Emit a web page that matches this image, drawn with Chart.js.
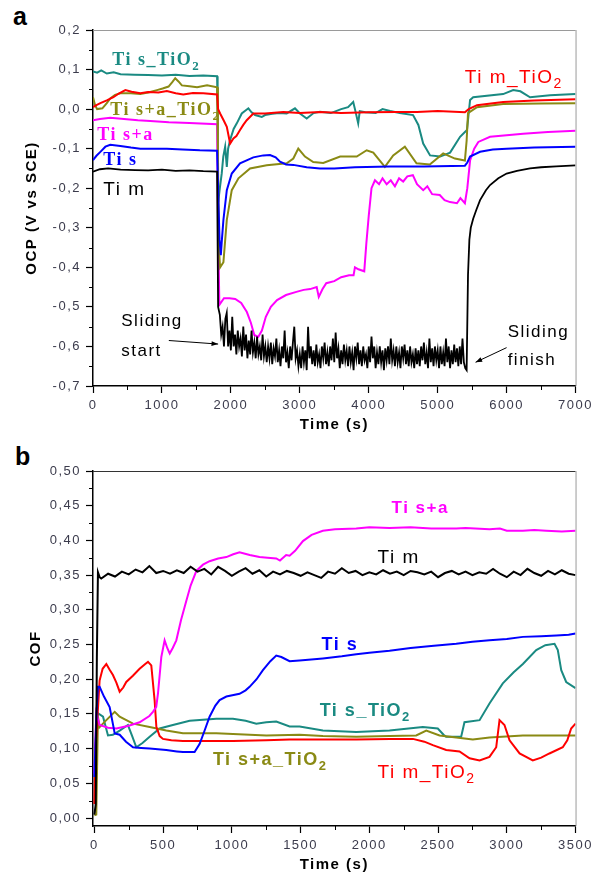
<!DOCTYPE html>
<html>
<head>
<meta charset="utf-8">
<script src="https://cdn.jsdelivr.net/npm/chart.js@4.4.1/dist/chart.umd.min.js"></script>
<style>
  body { margin: 0; background: #fff; width: 595px; height: 878px; position: relative; overflow: hidden; }
  canvas { position: absolute; left: 0; }
  .panel { position: absolute; left: 13px; font: bold 25px 'Liberation Sans', Arial, sans-serif; line-height: 25px; }
</style>
</head>
<body>
<div class="panel" style="top:4px">a</div>
<div class="panel" style="top:444px;left:15px">b</div>
<canvas id="ocp" width="595" height="440" style="top:0"></canvas>
<canvas id="cof" width="595" height="438" style="top:440px"></canvas>
<script>
// ---------- panel a : OCP (V vs SCE) against time (s) ----------
const ocpXTicks = [0, 1000, 2000, 3000, 4000, 5000, 6000, 7000];
const ocpYTicks = [-0.7, -0.6, -0.5, -0.4, -0.3, -0.2, -0.1, 0, 0.1, 0.2];
const ocpXMinor = [500, 1500, 2500, 3500, 4500, 5500, 6500];
const ocpYMinor = [-0.65, -0.55, -0.45, -0.35, -0.25, -0.15, -0.05, 0.05, 0.15];

const ocpTimPre = [[0,-0.158],[100,-0.152],[220,-0.15],[400,-0.153],[610,-0.154],[800,-0.155],[1000,-0.153],[1200,-0.156],[1400,-0.155],[1600,-0.157],[1800,-0.158],[1815,-0.5]];
// sliding band of Ti m, sampled every 20 s from 1840 s
const ocpTimBandStart = 1840;
const ocpTimBandStep = 20;
const ocpTimBand = [
  -0.52,-0.57,-0.55,-0.6,-0.53,-0.515,-0.6,-0.56,-0.61,-0.525,-0.6,-0.57,-0.62,-0.56,-0.6,-0.58,-0.625,
  -0.55,-0.61,-0.57,-0.63,-0.585,-0.62,-0.56,-0.615,-0.59,-0.63,-0.575,-0.62,-0.6,-0.635,-0.57,-0.625,-0.6,
  -0.64,-0.6,-0.63,-0.59,-0.645,-0.605,-0.625,-0.58,-0.64,-0.61,-0.65,-0.6,-0.63,-0.56,-0.64,-0.615,-0.655,
  -0.6,-0.635,-0.59,-0.55,-0.63,-0.61,-0.65,-0.62,-0.655,-0.6,-0.64,-0.61,-0.66,-0.55,-0.63,-0.6,-0.645,
  -0.61,-0.65,-0.595,-0.64,-0.62,-0.655,-0.6,-0.63,-0.59,-0.645,-0.615,-0.65,-0.6,-0.635,-0.58,-0.64,-0.565,
  -0.63,-0.605,-0.655,-0.61,-0.645,-0.595,-0.635,-0.61,-0.65,-0.6,-0.64,-0.615,-0.66,-0.6,-0.63,-0.59,-0.645,
  -0.61,-0.65,-0.6,-0.635,-0.62,-0.655,-0.6,-0.64,-0.575,-0.63,-0.6,-0.655,-0.615,-0.645,-0.6,-0.64,-0.61,
  -0.66,-0.605,-0.635,-0.6,-0.645,-0.58,-0.635,-0.61,-0.65,-0.6,-0.64,-0.615,-0.655,-0.6,-0.63,-0.595,-0.645,
  -0.61,-0.65,-0.6,-0.64,-0.62,-0.655,-0.605,-0.645,-0.61,-0.65,-0.6,-0.635,-0.59,-0.645,-0.615,-0.655,-0.58,
  -0.64,-0.605,-0.65,-0.6,-0.635,-0.61,-0.655,-0.6,-0.645,-0.615,-0.65,-0.58,-0.64,-0.6,-0.655,-0.61,-0.645,
  -0.595,-0.64,-0.605,-0.65,-0.6,-0.645,-0.58,-0.64,-0.655,-0.66
];
const ocpTimPost = [[5440,-0.42],[5460,-0.33],[5480,-0.3],[5515,-0.277],[5560,-0.255],[5615,-0.23],[5700,-0.205],[5760,-0.192],[5880,-0.175],[6000,-0.163],[6150,-0.156],[6340,-0.15],[6500,-0.147],[6720,-0.145],[7000,-0.142]];

const ocpTis = [[0,-0.129],[50,-0.118],[107,-0.108],[180,-0.095],[251,-0.09],[397,-0.093],[550,-0.097],[686,-0.1],[900,-0.1],[1072,-0.1],[1300,-0.102],[1550,-0.104],[1800,-0.105],[1815,-0.2],[1835,-0.33],[1854,-0.369],[1870,-0.33],[1892,-0.28],[1941,-0.205],[2013,-0.163],[2133,-0.137],[2326,-0.122],[2470,-0.117],[2568,-0.116],[2650,-0.122],[2713,-0.133],[2800,-0.14],[2906,-0.141],[3100,-0.147],[3292,-0.15],[3500,-0.15],[3800,-0.147],[4300,-0.145],[4800,-0.145],[5395,-0.143],[5430,-0.135],[5470,-0.12],[5615,-0.108],[5800,-0.102],[6000,-0.1],[6400,-0.097],[7000,-0.095]];

const ocpTimTiO2 = [[0,0.005],[50,0.01],[107,0.015],[200,0.022],[296,0.03],[380,0.04],[470,0.048],[560,0.044],[686,0.04],[800,0.043],[950,0.042],[1072,0.046],[1200,0.04],[1309,0.037],[1450,0.041],[1600,0.04],[1800,0.037],[1815,0.0],[1844,-0.011],[1900,-0.03],[1941,-0.045],[1989,-0.087],[2037,-0.074],[2080,-0.068],[2133,-0.053],[2180,-0.04],[2230,-0.028],[2326,-0.011],[2496,-0.011],[2761,-0.007],[3000,-0.01],[3300,-0.007],[3600,-0.01],[4000,-0.008],[4400,-0.007],[4700,-0.007],[5000,-0.005],[5395,-0.008],[5450,0.0],[5570,0.01],[5950,0.018],[6400,0.022],[7000,0.025]];

const ocpTisaTiO2 = [[0,0.03],[30,0.01],[60,0.0],[136,0.002],[200,0.015],[250,0.027],[320,0.036],[397,0.04],[550,0.04],[686,0.038],[800,0.042],[928,0.048],[1010,0.052],[1096,0.057],[1150,0.068],[1193,0.078],[1240,0.07],[1289,0.06],[1400,0.058],[1510,0.055],[1655,0.06],[1800,0.055],[1812,-0.1],[1825,-0.35],[1844,-0.4],[1892,-0.387],[1941,-0.28],[2013,-0.205],[2110,-0.175],[2278,-0.15],[2520,-0.142],[2810,-0.137],[2906,-0.125],[2978,-0.1],[3075,-0.12],[3195,-0.134],[3340,-0.136],[3585,-0.12],[3826,-0.12],[3970,-0.104],[4066,-0.11],[4234,-0.146],[4355,-0.117],[4524,-0.095],[4693,-0.137],[4886,-0.14],[5080,-0.112],[5250,-0.125],[5395,-0.13],[5420,-0.08],[5440,-0.01],[5570,0.005],[5950,0.013],[6500,0.014],[7000,0.015]];

const ocpTisa = [[0,-0.028],[100,-0.025],[250,-0.022],[450,-0.025],[650,-0.028],[830,-0.03],[1100,-0.033],[1400,-0.035],[1800,-0.038],[1815,-0.3],[1833,-0.495],[1900,-0.478],[1980,-0.478],[2063,-0.48],[2150,-0.49],[2232,-0.513],[2290,-0.54],[2340,-0.571],[2397,-0.576],[2450,-0.56],[2507,-0.525],[2580,-0.5],[2670,-0.483],[2800,-0.47],[2950,-0.462],[3056,-0.457],[3150,-0.455],[3245,-0.45],[3275,-0.475],[3330,-0.455],[3384,-0.44],[3500,-0.435],[3600,-0.425],[3715,-0.42],[3780,-0.42],[3800,-0.4],[3850,-0.405],[3935,-0.41],[3965,-0.34],[4000,-0.27],[4040,-0.2],[4090,-0.18],[4150,-0.19],[4200,-0.175],[4260,-0.19],[4320,-0.18],[4380,-0.195],[4440,-0.175],[4500,-0.183],[4560,-0.17],[4640,-0.167],[4700,-0.19],[4790,-0.205],[4850,-0.195],[4920,-0.215],[5030,-0.217],[5100,-0.23],[5180,-0.235],[5280,-0.238],[5330,-0.225],[5395,-0.238],[5430,-0.2],[5470,-0.13],[5530,-0.1],[5590,-0.083],[5760,-0.07],[6000,-0.066],[6240,-0.062],[6600,-0.058],[7000,-0.055]];

const ocpTisTiO2 = [[0,0.095],[60,0.092],[120,0.098],[200,0.09],[300,0.093],[400,0.088],[600,0.087],[800,0.086],[1000,0.085],[1200,0.087],[1400,0.084],[1600,0.085],[1800,0.083],[1808,0.0],[1816,-0.235],[1840,-0.2],[1868,-0.162],[1890,-0.12],[1917,-0.095],[1941,-0.146],[1960,-0.1],[1989,-0.078],[2040,-0.05],[2086,-0.036],[2158,-0.011],[2254,0.002],[2300,-0.008],[2351,-0.015],[2448,-0.02],[2496,-0.015],[2600,-0.012],[2700,-0.01],[2810,-0.011],[2930,0.002],[3002,-0.011],[3100,-0.024],[3200,-0.01],[3292,-0.007],[3450,-0.01],[3600,0.0],[3700,0.005],[3775,0.018],[3800,0.0],[3847,-0.036],[3870,-0.005],[3950,-0.008],[4100,-0.01],[4200,0.0],[4310,-0.005],[4450,-0.01],[4643,-0.015],[4720,-0.04],[4790,-0.087],[4890,-0.117],[5036,-0.12],[5180,-0.11],[5325,-0.07],[5425,-0.053],[5470,0.023],[5515,0.03],[5950,0.038],[6096,0.048],[6200,0.045],[6340,0.03],[6630,0.035],[7000,0.038]];

// ---------- panel b : COF against time (s) ----------
const cofXTicks = [0, 500, 1000, 1500, 2000, 2500, 3000, 3500];
const cofYTicks = [0, 0.05, 0.1, 0.15, 0.2, 0.25, 0.3, 0.35, 0.4, 0.45, 0.5];
const cofXMinor = [250, 750, 1250, 1750, 2250, 2750, 3250];
const cofYMinor = [0.025, 0.075, 0.125, 0.175, 0.225, 0.275, 0.325, 0.375, 0.425, 0.475];

const cofTim = [[0,0.005],[10,0.02],[18,0.23],[26,0.354],[38,0.347],[50,0.345],[100,0.352],[150,0.348],[200,0.355],[250,0.351],[300,0.358],[350,0.354],[400,0.363],[450,0.353],[500,0.356],[550,0.352],[600,0.357],[650,0.353],[700,0.362],[750,0.355],[800,0.359],[850,0.351],[900,0.362],[950,0.356],[1000,0.349],[1050,0.355],[1100,0.36],[1150,0.352],[1200,0.357],[1250,0.348],[1300,0.355],[1350,0.351],[1400,0.356],[1450,0.353],[1500,0.349],[1550,0.354],[1600,0.35],[1650,0.346],[1700,0.355],[1750,0.352],[1800,0.36],[1850,0.353],[1900,0.356],[1950,0.35],[2000,0.354],[2050,0.351],[2100,0.357],[2150,0.352],[2200,0.355],[2250,0.35],[2300,0.356],[2350,0.354],[2400,0.351],[2450,0.355],[2500,0.347],[2550,0.353],[2600,0.356],[2650,0.351],[2700,0.355],[2750,0.35],[2800,0.354],[2850,0.352],[2900,0.359],[2950,0.352],[3000,0.347],[3050,0.355],[3100,0.35],[3150,0.359],[3200,0.353],[3250,0.349],[3300,0.356],[3350,0.351],[3400,0.357],[3450,0.352],[3500,0.35]];

const cofTisa = [[0,0.064],[14,0.151],[38,0.134],[100,0.13],[160,0.129],[250,0.133],[329,0.138],[400,0.147],[426,0.153],[450,0.16],[463,0.18],[487,0.232],[511,0.256],[530,0.245],[548,0.237],[570,0.245],[596,0.256],[630,0.285],[669,0.313],[700,0.335],[742,0.356],[790,0.365],[838,0.37],[900,0.374],[960,0.376],[1010,0.38],[1056,0.383],[1130,0.379],[1201,0.376],[1260,0.375],[1323,0.374],[1350,0.371],[1395,0.379],[1420,0.378],[1460,0.385],[1517,0.399],[1580,0.408],[1662,0.414],[1750,0.416],[1905,0.417],[2000,0.419],[2147,0.418],[2300,0.419],[2450,0.417],[2632,0.417],[2700,0.418],[2874,0.416],[2950,0.417],[3000,0.414],[3117,0.414],[3200,0.415],[3287,0.414],[3400,0.413],[3500,0.414]];

const cofTis = [[0,0.059],[15,0.15],[26,0.189],[38,0.189],[70,0.175],[111,0.16],[148,0.122],[184,0.12],[230,0.11],[281,0.102],[340,0.101],[402,0.1],[523,0.098],[600,0.096],[644,0.095],[729,0.095],[766,0.107],[800,0.125],[838,0.146],[880,0.162],[911,0.17],[960,0.175],[1056,0.179],[1100,0.184],[1129,0.189],[1180,0.2],[1226,0.213],[1280,0.226],[1323,0.234],[1360,0.232],[1420,0.226],[1492,0.227],[1662,0.23],[1800,0.233],[1905,0.236],[2000,0.238],[2147,0.241],[2300,0.245],[2450,0.248],[2632,0.251],[2750,0.254],[2874,0.256],[3000,0.258],[3117,0.261],[3250,0.262],[3360,0.263],[3450,0.264],[3500,0.266]];

const cofTimTiO2 = [[0,0.02],[8,0.1],[14,0.117],[38,0.198],[60,0.215],[87,0.222],[110,0.214],[135,0.206],[160,0.195],[184,0.182],[210,0.188],[232,0.196],[280,0.205],[329,0.215],[370,0.222],[390,0.225],[414,0.22],[438,0.17],[451,0.131],[475,0.118],[499,0.114],[560,0.112],[644,0.111],[800,0.111],[1008,0.111],[1250,0.112],[1420,0.113],[1700,0.113],[1905,0.113],[2150,0.114],[2317,0.114],[2400,0.11],[2462,0.105],[2559,0.098],[2656,0.096],[2729,0.086],[2802,0.083],[2874,0.088],[2923,0.102],[2947,0.141],[2983,0.134],[3020,0.112],[3093,0.093],[3189,0.083],[3250,0.087],[3310,0.093],[3407,0.102],[3440,0.112],[3468,0.129],[3500,0.136]];

const cofTisTiO2 = [[0,0.07],[15,0.13],[26,0.151],[63,0.146],[99,0.119],[135,0.12],[184,0.126],[244,0.134],[275,0.118],[305,0.102],[350,0.108],[402,0.117],[475,0.129],[571,0.134],[693,0.14],[887,0.143],[1008,0.143],[1100,0.14],[1178,0.136],[1250,0.138],[1323,0.139],[1420,0.132],[1493,0.132],[1662,0.126],[1905,0.124],[2147,0.126],[2389,0.131],[2498,0.129],[2540,0.12],[2559,0.117],[2668,0.117],[2692,0.138],[2802,0.141],[2874,0.165],[2971,0.194],[3050,0.21],[3117,0.222],[3214,0.242],[3280,0.249],[3347,0.251],[3371,0.242],[3396,0.213],[3432,0.196],[3500,0.187]];

const cofTisaTiO2 = [[0,0.004],[14,0.005],[26,0.146],[38,0.131],[87,0.141],[148,0.153],[184,0.146],[281,0.136],[402,0.131],[523,0.126],[644,0.122],[887,0.122],[1251,0.119],[1493,0.12],[1662,0.118],[1905,0.117],[2147,0.118],[2341,0.119],[2414,0.126],[2511,0.119],[2632,0.116],[2753,0.113],[2874,0.116],[3117,0.119],[3360,0.119],[3500,0.119]];

const BLACK = '#000000', BLUE = '#0000ff', RED = '#ff0000', OLIVE = '#8a8a14', MAGENTA = '#ff00ff', TEAL = '#1a8a82';
const SANS = "'Liberation Sans', Arial, sans-serif";
const SERIF = "'Liberation Serif', 'Times New Roman', serif";

const pts = arr => arr.map(([x, y]) => ({ x, y }));
const ocpTimAll = pts(ocpTimPre)
  .concat(ocpTimBand.map((v, i) => ({ x: ocpTimBandStart + i * ocpTimBandStep, y: v })))
  .concat(pts(ocpTimPost));

function line(data, color, width) {
  return { data, borderColor: color, backgroundColor: color, borderWidth: width || 2, pointRadius: 0, tension: 0 };
}

// frame, minor ticks, series labels and arrows
const decorPlugin = {
  id: 'decor',
  beforeDraw(chart) { chart.ctx.letterSpacing = '1.5px'; },
  afterDraw(chart, args, opts) {
    const { ctx, chartArea: a, scales: { x, y } } = chart;
    ctx.save();
    ctx.lineWidth = 1;
    ctx.strokeStyle = opts.topColor;
    ctx.beginPath(); ctx.moveTo(a.left, a.top + 0.5); ctx.lineTo(a.right, a.top + 0.5); ctx.stroke();
    ctx.strokeStyle = opts.rightColor;
    ctx.beginPath(); ctx.moveTo(a.right + 0.5, a.top); ctx.lineTo(a.right + 0.5, a.bottom); ctx.stroke();

    ctx.strokeStyle = '#000';
    ctx.beginPath();
    opts.xMinor.forEach(v => { const px = Math.round(x.getPixelForValue(v)) + 0.5; ctx.moveTo(px, a.bottom); ctx.lineTo(px, a.bottom + 4); });
    opts.yMinor.forEach(v => { const py = Math.round(y.getPixelForValue(v)) + 0.5; ctx.moveTo(a.left, py); ctx.lineTo(a.left - 4, py); });
    ctx.stroke();

    ctx.textBaseline = 'alphabetic';
    ctx.textAlign = 'left';
    (opts.labels || []).forEach(l => {
      const px = x.getPixelForValue(l.x), py = y.getPixelForValue(l.y);
      ctx.fillStyle = l.color;
      ctx.font = `${l.weight || 'normal'} ${l.size}px ${l.family}`;
      ctx.fillText(l.text, px, py);
      if (l.sub) {
        const w = ctx.measureText(l.text).width;
        ctx.font = `${l.weight || 'normal'} ${Math.round(l.size * 0.72)}px ${l.family}`;
        ctx.fillText(l.sub, px + w, py + 5);
      }
    });

    (opts.arrows || []).forEach(ar => {
      const x1 = x.getPixelForValue(ar.from[0]), y1 = y.getPixelForValue(ar.from[1]);
      const x2 = x.getPixelForValue(ar.to[0]), y2 = y.getPixelForValue(ar.to[1]);
      const ang = Math.atan2(y2 - y1, x2 - x1);
      ctx.strokeStyle = '#000'; ctx.fillStyle = '#000'; ctx.lineWidth = 1;
      ctx.beginPath(); ctx.moveTo(x1, y1); ctx.lineTo(x2, y2); ctx.stroke();
      ctx.beginPath();
      ctx.moveTo(x2, y2);
      ctx.lineTo(x2 - 7 * Math.cos(ang - 0.35), y2 - 7 * Math.sin(ang - 0.35));
      ctx.lineTo(x2 - 7 * Math.cos(ang + 0.35), y2 - 7 * Math.sin(ang + 0.35));
      ctx.closePath(); ctx.fill();
    });
    ctx.restore();
  }
};

function axis(opts) {
  return {
    type: 'linear',
    min: opts.min, max: opts.max,
    afterBuildTicks: s => { s.ticks = opts.ticks.map(v => ({ value: v })); },
    afterFit: s => { if (opts.width) s.width = opts.width; if (opts.height) s.height = opts.height; },
    grid: { drawOnChartArea: false, tickLength: 7, tickColor: '#000', tickWidth: 1.2 },
    border: { color: '#000', width: 1.5 },
    ticks: {
      autoSkip: false, maxRotation: 0, padding: opts.pad, color: '#3b3b4c',
      font: { family: SANS, size: 13 },
      callback: opts.fmt
    },
    title: { display: true, text: opts.title, color: '#000', font: { family: SANS, size: 15, weight: 'bold' }, padding: opts.titlePad }
  };
}

const fmtComma = d => v => (Math.abs(v) < 1e-9 ? 0 : v).toFixed(d).replace('.', ',');

new Chart(document.getElementById('ocp'), {
  type: 'line',
  data: {
    datasets: [
      line(ocpTimAll, BLACK, 1.8),
      line(pts(ocpTis), BLUE),
      line(pts(ocpTimTiO2), RED),
      line(pts(ocpTisaTiO2), OLIVE),
      line(pts(ocpTisa), MAGENTA),
      line(pts(ocpTisTiO2), TEAL)
    ]
  },
  options: {
    responsive: false,
    animation: false,
    layout: { padding: { top: 30, right: 19, left: 0, bottom: 0 } },
    scales: {
      x: axis({ min: 0, max: 7000, ticks: ocpXTicks, height: 54, pad: 5, fmt: v => String(v), title: 'Time (s)', titlePad: { top: 0, bottom: 6 } }),
      y: axis({ min: -0.7, max: 0.2, ticks: ocpYTicks, width: 93, pad: 5, fmt: fmtComma(1), title: 'OCP (V vs SCE)', titlePad: { top: 23, bottom: 0 } })
    },
    plugins: {
      legend: { display: false },
      tooltip: { enabled: false },
      decor: {
        topColor: '#9a9a9a', rightColor: '#9a9a9a',
        xMinor: ocpXMinor, yMinor: ocpYMinor,
        labels: [
          { text: 'Ti s_TiO', sub: '2', x: 280, y: 0.111, color: TEAL, size: 18, weight: 'bold', family: SERIF },
          { text: 'Ti s+a_TiO', sub: '2', x: 252, y: -0.015, color: OLIVE, size: 18, weight: 'bold', family: SERIF },
          { text: 'Ti s+a', x: 62, y: -0.078, color: MAGENTA, size: 18, weight: 'bold', family: SERIF },
          { text: 'Ti s', x: 150, y: -0.142, color: BLUE, size: 18, weight: 'bold', family: SERIF },
          { text: 'Ti m', x: 150, y: -0.218, color: BLACK, size: 19, family: SANS },
          { text: 'Ti m_TiO', sub: '2', x: 5393, y: 0.066, color: RED, size: 19, family: SANS },
          { text: 'Sliding', x: 410, y: -0.549, color: BLACK, size: 17, family: SANS },
          { text: 'start', x: 410, y: -0.623, color: BLACK, size: 17, family: SANS },
          { text: 'Sliding', x: 6015, y: -0.575, color: BLACK, size: 17, family: SANS },
          { text: 'finish', x: 6015, y: -0.648, color: BLACK, size: 17, family: SANS }
        ],
        arrows: [
          { from: [1100, -0.585], to: [1815, -0.594] },
          { from: [6000, -0.603], to: [5550, -0.64] }
        ]
      }
    }
  },
  plugins: [decorPlugin]
});

new Chart(document.getElementById('cof'), {
  type: 'line',
  data: {
    datasets: [
      line(pts(cofTim), BLACK),
      line(pts(cofTis), BLUE),
      line(pts(cofTisa), MAGENTA),
      line(pts(cofTimTiO2), RED),
      line(pts(cofTisaTiO2), OLIVE),
      line(pts(cofTisTiO2), TEAL)
    ]
  },
  options: {
    responsive: false,
    animation: false,
    layout: { padding: { top: 31, right: 19, left: 0, bottom: 0 } },
    scales: {
      x: axis({ min: -10, max: 3500, ticks: cofXTicks, height: 52, pad: 5, fmt: v => String(v), title: 'Time (s)', titlePad: { top: 0, bottom: 4 } }),
      y: axis({ min: -0.0115, max: 0.5, ticks: cofYTicks, width: 93, pad: 5, fmt: fmtComma(2), title: 'COF', titlePad: { top: 27, bottom: 0 } })
    },
    plugins: {
      legend: { display: false },
      tooltip: { enabled: false },
      decor: {
        topColor: '#333333', rightColor: '#9a9a9a',
        xMinor: cofXMinor, yMinor: cofYMinor,
        labels: [
          { text: 'Ti s+a', x: 2162, y: 0.439, color: MAGENTA, size: 17, weight: 'bold', family: SANS },
          { text: 'Ti m', x: 2060, y: 0.367, color: BLACK, size: 19, family: SANS },
          { text: 'Ti s', x: 1653, y: 0.242, color: BLUE, size: 18, weight: 'bold', family: SANS },
          { text: 'Ti s_TiO', sub: '2', x: 1639, y: 0.147, color: TEAL, size: 18, weight: 'bold', family: SANS },
          { text: 'Ti s+a_TiO', sub: '2', x: 862, y: 0.076, color: OLIVE, size: 18, weight: 'bold', family: SANS },
          { text: 'Ti m_TiO', sub: '2', x: 2060, y: 0.057, color: RED, size: 19, family: SANS }
        ],
        arrows: []
      }
    }
  },
  plugins: [decorPlugin]
});
</script>
</body>
</html>
